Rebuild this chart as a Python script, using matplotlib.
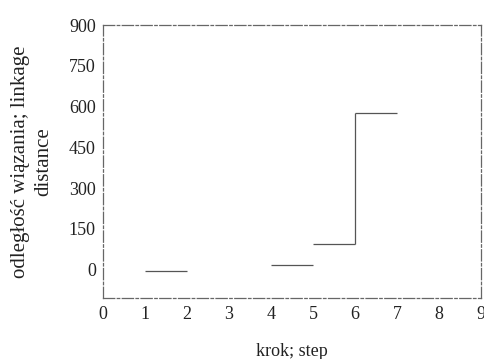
import matplotlib
matplotlib.use("Agg")
from matplotlib import pyplot as plt

# step plot of linkage distance (agglomeration schedule)
step_from = [1, 4, 5, 6]
step_to = [2, 5, 6, 7]
distance = [-5, 15, 95, 575]

x_ticks = [0, 1, 2, 3, 4, 5, 6, 7, 8, 9]
y_ticks = [0, 150, 300, 450, 600, 750, 900]

plt.rcParams['font.family'] = ['Liberation Serif', 'DejaVu Serif']

fig = plt.figure(figsize=(4.85, 3.59), dpi=100)
ax = fig.add_axes([0.212, 0.170, 0.780, 0.760])

line_color = '#555555'
ax.hlines(distance, step_from, step_to, color=line_color, linewidth=0.9)
# vertical join between steps 5 and 6
ax.vlines(step_to[2], distance[2], distance[3], color=line_color, linewidth=0.9)

ax.set_xlim(0, 9)
ax.set_ylim(-105, 900)
ax.set_xticks(x_ticks)
ax.set_yticks(y_ticks)
ax.tick_params(length=0, labelsize=13, colors='#222222')
ax.tick_params(axis='x', pad=6)
ax.tick_params(axis='y', pad=5)

for side in ['top', 'bottom', 'left', 'right']:
    ax.spines[side].set_color('#666666')
    ax.spines[side].set_linewidth(0.9)
    ax.spines[side].set_linestyle((0, (9, 2, 2, 2)))

ax.set_ylabel("odległość wiązania; linkage\ndistance", fontsize=15,
              color='#222222', multialignment='center', linespacing=1.3)
ax.yaxis.set_label_coords(-0.132, 0.5)
ax.set_xlabel("krok; step", fontsize=13, color='#222222')
ax.xaxis.set_label_coords(0.5, -0.165)

fig.savefig("out.png", dpi=100)
